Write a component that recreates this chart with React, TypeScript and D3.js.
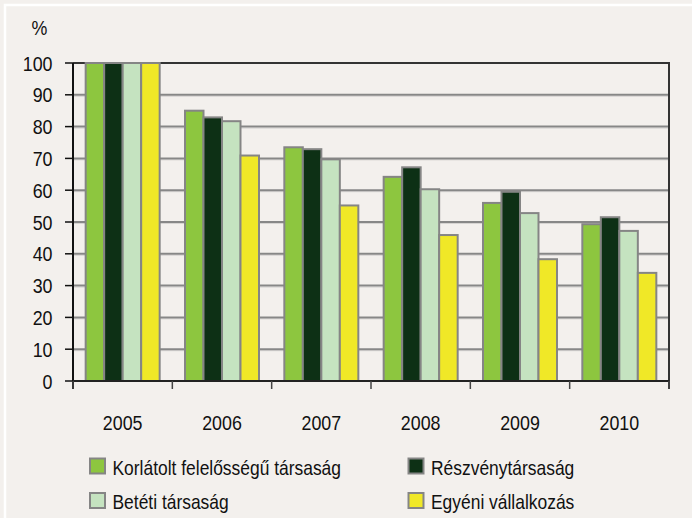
import React, { useEffect, useRef } from 'react';
import * as d3 from 'd3';

const years = ['2005', '2006', '2007', '2008', '2009', '2010'];
const seriesNames = [
  'Korlátolt felelősségű társaság',
  'Részvénytársaság',
  'Betéti társaság',
  'Egyéni vállalkozás',
];
const seriesColors = ['#8DC63F', '#0D3015', '#C5E3C0', '#F0E827'];

const kft = [100, 85, 73.5, 64.2, 56, 49.3];
const rt = [100, 82.9, 72.9, 67.2, 59.5, 51.5];
const bt = [100, 81.7, 69.7, 60.3, 52.8, 47.2];
const ev = [100, 70.9, 55.2, 45.9, 38.3, 34];
const yTicks = [0, 10, 20, 30, 40, 50, 60, 70, 80, 90, 100];

const FONT = "'Liberation Sans', Arial, sans-serif";
const SQUEEZE = 0.85;

export default function App() {
  const svgRef = useRef<SVGSVGElement>(null);

  const width = 692;
  const height = 518;
  const plot = { left: 73, right: 669, top: 63, bottom: 381 };

  useEffect(() => {
    const svg = d3.select(svgRef.current);
    svg.selectAll('*').remove();
    svg.attr('width', width).attr('height', height);

    // narrow-looking text: scale horizontally around the anchor point
    const addText = (x: number, y: number, txt: string, anchor = 'start', size = 21) =>
      svg
        .append('text')
        .attr('transform', `translate(${x},${y}) scale(${SQUEEZE},1)`)
        .attr('text-anchor', anchor)
        .attr('font-family', FONT)
        .attr('font-size', size)
        .attr('fill', '#111')
        .text(txt);

    const values = [kft, rt, bt, ev];
    const rows = years.map((y, i) => ({ year: y, vals: values.map((s) => s[i]) }));

    // background + white frame top/left
    svg.append('rect').attr('width', width).attr('height', height).attr('fill', '#F3F0ED');
    svg
      .append('path')
      .attr('d', `M5,${height} V5 H${width}`)
      .attr('fill', 'none')
      .attr('stroke', '#ffffff')
      .attr('stroke-width', 2.5);

    const xScale = d3
      .scaleBand()
      .domain(years)
      .range([plot.left, plot.right])
      .paddingInner(0.255)
      .paddingOuter(0.1275);
    const xStep = (plot.right - plot.left) / years.length;

    const xSub = d3
      .scaleBand()
      .domain(seriesNames)
      .range([0, xScale.bandwidth()])
      .padding(0);

    const yScale = d3.scaleLinear().domain([0, 100]).range([plot.bottom, plot.top]);

    // gridlines
    const grid = svg.append('g');
    yTicks
      .filter((t) => t > 0 && t < 100)
      .forEach((t) => {
        grid
          .append('line')
          .attr('x1', plot.left)
          .attr('x2', plot.right)
          .attr('y1', yScale(t) + 1.5)
          .attr('y2', yScale(t) + 1.5)
          .attr('stroke', '#d6d4d2')
          .attr('stroke-width', 1);
        grid
          .append('line')
          .attr('x1', plot.left)
          .attr('x2', plot.right)
          .attr('y1', yScale(t))
          .attr('y2', yScale(t))
          .attr('stroke', '#878787')
          .attr('stroke-width', 2);
      });

    // frame top + right
    svg
      .append('path')
      .attr('d', `M${plot.left},${plot.top} H${plot.right} V${plot.bottom + 8}`)
      .attr('fill', 'none')
      .attr('stroke', '#333333')
      .attr('stroke-width', 2);

    // bars
    const groups = svg
      .append('g')
      .selectAll('g')
      .data(rows)
      .enter()
      .append('g')
      .attr('transform', (d) => `translate(${xScale(d.year)},0)`);

    groups
      .selectAll('rect')
      .data((d) => d.vals.map((v, i) => ({ name: seriesNames[i], v, i })))
      .enter()
      .append('rect')
      .attr('x', (d) => xSub(d.name)!)
      .attr('y', (d) => yScale(d.v))
      .attr('width', xSub.bandwidth())
      .attr('height', (d) => plot.bottom - yScale(d.v))
      .attr('fill', (d) => seriesColors[d.i])
      .attr('stroke', '#858585')
      .attr('stroke-width', 2);

    // y axis
    svg
      .append('line')
      .attr('x1', plot.left)
      .attr('x2', plot.left)
      .attr('y1', plot.top)
      .attr('y2', plot.bottom + 8)
      .attr('stroke', '#111')
      .attr('stroke-width', 2);
    yTicks.forEach((t) => {
      svg
        .append('line')
        .attr('x1', plot.left - 8)
        .attr('x2', plot.left)
        .attr('y1', yScale(t))
        .attr('y2', yScale(t))
        .attr('stroke', '#111')
        .attr('stroke-width', 1.5);
      addText(52.5, yScale(t) + 7.5, String(t), 'end');
    });

    // x axis
    svg
      .append('line')
      .attr('x1', plot.left)
      .attr('x2', plot.right)
      .attr('y1', plot.bottom)
      .attr('y2', plot.bottom)
      .attr('stroke', '#222')
      .attr('stroke-width', 2);
    d3.range(years.length + 1).forEach((i) => {
      svg
        .append('line')
        .attr('x1', plot.left + i * xStep)
        .attr('x2', plot.left + i * xStep)
        .attr('y1', plot.bottom)
        .attr('y2', plot.bottom + 8)
        .attr('stroke', '#444')
        .attr('stroke-width', 1.5);
    });
    years.forEach((y) => {
      addText(xScale(y)! + xScale.bandwidth() / 2, 429.5, y, 'middle');
    });

    // unit label
    addText(31.5, 35, '%');

    // legend
    const legendPos = [
      [90, 458.5],
      [408.5, 458.5],
      [90, 493],
      [408.5, 493],
    ];
    seriesNames.forEach((name, k) => {
      const [lx, ly] = legendPos[k];
      svg
        .append('rect')
        .attr('x', lx)
        .attr('y', ly)
        .attr('width', 15)
        .attr('height', 15)
        .attr('fill', seriesColors[k])
        .attr('stroke', '#858585')
        .attr('stroke-width', 2);
      addText(lx + 22.5, ly + 16, name, 'start', 20.5);
    });
  }, []);

  return (
    <svg
      ref={svgRef}
      style={{ position: 'absolute', left: 0, top: 0, display: 'block' }}
    ></svg>
  );
}
